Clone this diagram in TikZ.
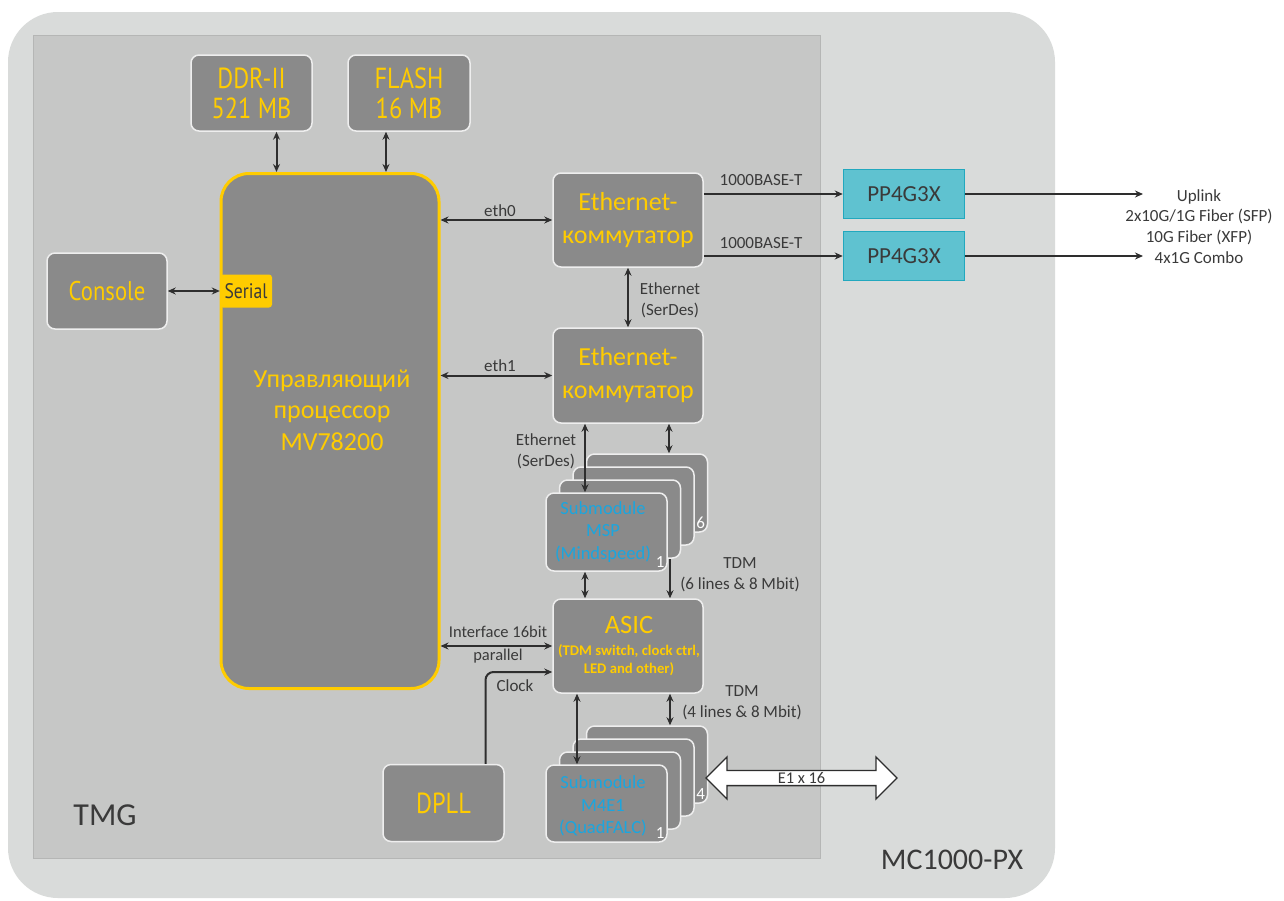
\documentclass[tikz,border=0pt]{standalone}
\usepackage{fontspec}
\setmainfont{Carlito}
\newfontfamily\narrowf[FakeStretch=0.84]{PT Sans}
\usetikzlibrary{arrows.meta,shapes.arrows}
\definecolor{outerbg}{HTML}{D9DBDA}
\definecolor{innerbg}{HTML}{C6C7C6}
\definecolor{innerline}{HTML}{B5B6B5}
\definecolor{boxfill}{HTML}{8A8A8A}
\definecolor{boxline}{HTML}{EEEEEE}
\definecolor{yel}{HTML}{FFCC00}
\definecolor{cyantext}{HTML}{1AA6DF}
\definecolor{ppfill}{HTML}{5FC2D0}
\definecolor{ppline}{HTML}{22A8BE}
\definecolor{txt}{HTML}{3A3A3A}
\definecolor{arrc}{HTML}{2E2E2E}
\pgfdeclarelayer{bg}
\pgfdeclarelayer{conn}
\pgfsetlayers{bg,conn,main}
\begin{document}
\begin{tikzpicture}[x=1pt,y=-1pt,
  box/.style={draw=boxline, line width=1.5pt, fill=boxfill, rounded corners=8pt, inner sep=0pt, text=yel, align=center},
  narrowlbl/.style={font=\narrowf\fontsize{29}{30}\selectfont},
  lbl/.style={text=txt, font=\fontsize{17}{21}\selectfont, inner sep=0pt, align=center},
  numlbl/.style={text=white, font=\fontsize{17}{18}\selectfont, inner sep=0pt, anchor=south east},
  subtext/.style={text=cyantext, font=\fontsize{18.5}{22.5}\selectfont, align=center, inner sep=0pt},
  tip/.tip={Stealth[length=8pt,width=7pt]},
  arr/.style={draw=arrc, line width=2pt, -tip},
  darr/.style={draw=arrc, line width=2pt, tip-tip},
  ppbox/.style={fill=ppfill, draw=ppline, line width=1.5pt, minimum width=121pt, minimum height=49pt, text=txt, font=\fontsize{23}{24}\selectfont}
]
\useasboundingbox (0,0) rectangle (1284,900);
\begin{pgfonlayer}{bg}
\fill[outerbg, rounded corners=50pt] (8,12) rectangle (1055,898);
\filldraw[fill=innerbg, draw=innerline, line width=1pt] (33,35) rectangle (820,858);
\end{pgfonlayer}

% boxes
\node[box, narrowlbl, minimum width=121pt, minimum height=76pt] (ddr) at (251.5,93) {DDR-II\\521 MB};
\node[box, narrowlbl, minimum width=122pt, minimum height=76pt] (flash) at (409,93) {FLASH\\16 MB};
\node[box, font=\narrowf\fontsize{27}{30}\selectfont, minimum width=120pt, minimum height=76pt] (console) at (107,291) {Console};
\node[box, draw=yel, line width=3pt, rounded corners=28pt, minimum width=218pt, minimum height=515pt] (cpu) at (330,431) {};
\node[text=yel, font=\fontsize{26}{31.5}\selectfont, align=center, inner sep=0pt] (cputxt) at (332,410) {Управляющий\\процессор\\MV78200};
\node[fill=yel, rounded corners=3pt, minimum width=52pt, minimum height=33pt, text=txt, inner sep=0pt, font=\narrowf\fontsize{21}{22}\selectfont] (serial) at (246,291) {Serial};

\node[box, font=\fontsize{26}{33}\selectfont, minimum width=150pt, minimum height=94pt] (sw1) at (628,220) {Ethernet-\\коммутатор};
\node[box, font=\fontsize{26}{33}\selectfont, minimum width=150pt, minimum height=95pt] (sw2) at (628,375.5) {Ethernet-\\коммутатор};

\node[ppbox] (pp1) at (904,194) {PP4G3X};
\node[ppbox] (pp2) at (904,256) {PP4G3X};

% MSP stack
\node[box, minimum width=121pt, minimum height=78pt] (msp4) at (647,493) {};
\node[box, minimum width=121pt, minimum height=78pt] (msp3) at (633.5,506) {};
\node[box, minimum width=121pt, minimum height=78pt] (msp2) at (620,519) {};
\node[box, minimum width=121pt, minimum height=78pt] (msp1) at (606.5,532) {};
\node[subtext] (msptxt) at (603,532) {Submodule\\MSP\\(Mindspeed)};
\node[numlbl] (msp4n) at ([xshift=-3pt,yshift=4pt]msp4.south east) {6};
\node[numlbl] (msp1n) at ([xshift=-3pt,yshift=4pt]msp1.south east) {1};

% ASIC
\node[box, minimum width=150pt, minimum height=94pt] (asic) at (628,646) {};
\node[text=yel, font=\fontsize{26.5}{30}\selectfont, inner sep=0pt] (asictitle) at (629,625) {ASIC};
\node[text=yel, font=\bfseries\fontsize{14.7}{18}\selectfont, align=center, inner sep=0pt] (asicsub) at (629,660) {(TDM switch, clock ctrl,\\LED and other)};

% M4E1 stack
\node[box, minimum width=121pt, minimum height=77pt] (m4) at (647,764.5) {};
\node[box, minimum width=121pt, minimum height=77pt] (m3) at (633.5,777.5) {};
\node[box, minimum width=121pt, minimum height=77pt] (m2) at (620,790.5) {};
\node[box, minimum width=121pt, minimum height=77pt] (m1) at (606.5,803.5) {};
\node[subtext] (m1txt) at (603,806) {Submodule\\M4E1\\(QuadFALC)};
\node[numlbl] (m4n) at ([xshift=-3pt,yshift=4pt]m4.south east) {4};
\node[numlbl] (m1n) at ([xshift=-3pt,yshift=4pt]m1.south east) {1};

\node[box, narrowlbl, minimum width=121pt, minimum height=77pt] (dpll) at (443.5,803) {DPLL};

% E1 arrow
\node[double arrow, draw=arrc, fill=white, line width=1.3pt, minimum height=191pt, minimum width=42pt, double arrow head extend=11pt, inner sep=0pt, text=txt, font=\fontsize{16.4}{17}\selectfont] (e1) at (801.5,778) {E1 x 16};

% frame labels
\node[text=txt, font=\fontsize{32}{34}\selectfont, inner sep=0pt] (tmg) at (105,815) {TMG};
\node[text=txt, font=\fontsize{30}{32}\selectfont, inner sep=0pt] (mc) at (952,860) {MC1000-PX};

% connectors
\coordinate (ddrA) at ([xshift=25pt]ddr.south);
\coordinate (flA) at ([xshift=-23pt]flash.south);
\draw[darr] (ddrA) -- (ddrA |- cpu.north);
\draw[darr] (flA) -- (flA |- cpu.north);
\draw[darr] (console.east) -- (serial.west);
\draw[darr] (cpu.east |- sw1.west) -- (sw1.west);
\draw[darr] (cpu.east |- sw2.west) -- (sw2.west);
\draw[darr] (cpu.east |- asic.west) -- (asic.west);
\draw[darr] (sw1.south) -- (sw2.north);

\coordinate (s2a) at ([xshift=-43pt]sw2.south);
\coordinate (s2b) at ([xshift=41pt]sw2.south);
\draw[darr] (s2a) -- (s2a |- msp1.north);
\draw[darr] (s2b) -- (s2b |- msp4.north);
\coordinate (mspA) at ([xshift=-21.5pt]msp1.south);
\draw[darr] (mspA) -- (mspA |- asic.north);
\coordinate (tdm6) at ([xshift=23pt]msp4.south);
\begin{pgfonlayer}{conn}
\draw[arr] (tdm6) -- (tdm6 |- asic.north);
\end{pgfonlayer}
\coordinate (asA) at ([xshift=-51pt]asic.south);
\coordinate (asB) at ([xshift=42pt]asic.south);
\draw[darr] (asA) -- (asA |- m1.north);
\draw[darr] (asB) -- (asB |- m4.north);

\coordinate (clk) at ([xshift=42pt]dpll.north);
\draw[arr, rounded corners=8pt] (clk) |- ([yshift=-26pt]asic.west);

\draw[arr] (sw1.east |- pp1.west) -- (pp1.west);
\draw[arr] (sw2.east |- pp2.west) -- (pp2.west);
\coordinate (up1) at (1143,194);
\coordinate (up2) at (1143,256);
\draw[arr] (pp1.east) -- (up1);
\draw[arr] (pp2.east) -- (up2);

% labels
\node[lbl] (leth0) at (500,211) {eth0};
\node[lbl] (leth1) at (500,366) {eth1};
\node[lbl] (lb1) at (761,180) {1000BASE-T};
\node[lbl] (lb2) at (761,243) {1000BASE-T};
\node[lbl] (lser1) at (670,300) {Ethernet\\(SerDes)};
\node[lbl] (lser2) at (546,451) {Ethernet\\(SerDes)};
\node[lbl] (ltdm1) at (740,575) {TDM\\(6 lines \& 8 Mbit)};
\node[lbl] (ltdm2) at (742,703) {TDM\\(4 lines \& 8 Mbit)};
\node[lbl, font=\fontsize{16.5}{23}\selectfont] (lif) at (498,645) {Interface 16bit\\parallel};
\node[lbl] (lclk) at (515,686) {Clock};
\node[lbl, font=\fontsize{17}{20.7}\selectfont] (uplink) at (1199,226.5) {Uplink\\2x10G/1G Fiber (SFP)\\10G Fiber (XFP)\\4x1G Combo};
\end{tikzpicture}
\end{document}
